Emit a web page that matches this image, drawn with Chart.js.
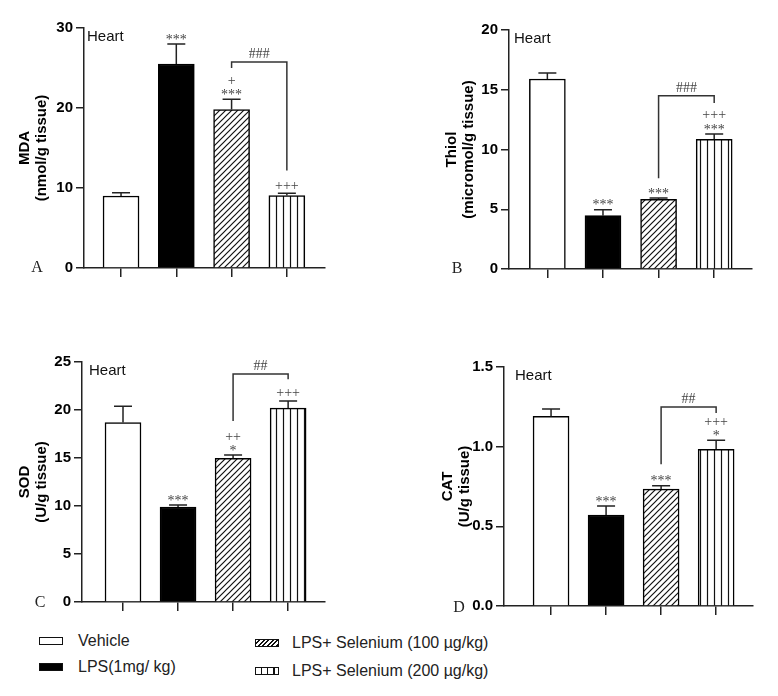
<!DOCTYPE html>
<html>
<head>
<meta charset="utf-8">
<script src="https://cdn.jsdelivr.net/npm/chart.js@4"></script>
<style>
  body { margin: 0; background: #fff; font-family: "Liberation Sans", Arial, sans-serif; }
  #wrap { position: relative; width: 778px; height: 696px; overflow: hidden; }
  canvas { position: absolute; }
  .sw { position: absolute; width: 24px; height: 8px; box-sizing: border-box; border: 1.5px solid #111; background: #fff; }
  .sw.black { background: #000; }
  .sw.diag { background: repeating-linear-gradient(135deg, #fff 0 2px, #111 2px 3.2px); }
  .sw.vert { background: repeating-linear-gradient(90deg, #fff 0 5px, #111 5px 6.2px); }
  .lab { position: absolute; font-size: 16px; line-height: 18px; color: #222; white-space: nowrap; }
</style>
</head>
<body>
<div id="wrap">
  <canvas id="mdaChart" width="389" height="300" style="left:0;top:0"></canvas>
  <canvas id="thiolChart" width="389" height="300" style="left:389px;top:0"></canvas>
  <canvas id="sodChart" width="389" height="320" style="left:0;top:300px"></canvas>
  <canvas id="catChart" width="389" height="320" style="left:389px;top:300px"></canvas>

  <div class="sw" style="left:39px;top:637px"></div>
  <div class="lab" style="left:78px;top:632px">Vehicle</div>
  <div class="sw black" style="left:39px;top:663px"></div>
  <div class="lab" style="left:78px;top:658px">LPS(1mg/ kg)</div>
  <div class="sw diag" style="left:255px;top:639px"></div>
  <div class="lab" style="left:292px;top:634px">LPS+ Selenium (100 µg/kg)</div>
  <div class="sw vert" style="left:255px;top:667px"></div>
  <div class="lab" style="left:292px;top:662px">LPS+ Selenium (200 µg/kg)</div>
</div>
<script>
// groups, in bar order
const groups = ["Vehicle", "LPS(1mg/ kg)", "LPS+ Selenium (100 µg/kg)", "LPS+ Selenium (200 µg/kg)"];

// A - MDA
const mdaMean = [9.0, 25.5, 19.8, 9.05];
const mdaErr = [9.4, 28.0, 21.1, 9.35];
const mdaMarks = [[], ["***"], ["+", "***"], ["+++"]];
const mdaBracket = [25.0, 25.75, 12.2];   // left foot, top, right foot
const mdaTicks = [0, 10, 20, 30];

// B - Thiol
const thiolMean = [15.9, 4.46, 5.83, 10.85];
const thiolErr = [16.4, 4.95, 5.94, 11.3];
const thiolMarks = [[], ["***"], ["***"], ["+++", "***"]];
const thiolBracket = [7.6, 14.5, 13.9];
const thiolTicks = [0, 5, 10, 15, 20];

// C - SOD
const sodMean = [18.7, 9.9, 14.97, 20.2];
const sodErr = [20.4, 10.1, 15.3, 20.95];
const sodMarks = [[], ["***"], ["++", "*"], ["+++"]];
const sodBracket = [18.85, 23.75, 23.2];
const sodTicks = [0, 5, 10, 15, 20, 25];

// D - CAT
const catMean = [1.19, 0.571, 0.734, 0.984];
const catErr = [1.236, 0.628, 0.755, 1.04];
const catMarks = [[], ["***"], ["***"], ["+++", "*"]];
const catBracket = [0.89, 1.249, 1.211];
const catTicks = [0, 0.5, 1.0, 1.5];
const catTickLabels = ["0.0", "0.5", "1.0", "1.5"];

// bar fills
function makePattern(kind) {
    const c = document.createElement("canvas");
    c.width = c.height = kind === "diag" ? 6 : 7;
    const g = c.getContext("2d");
    g.fillStyle = "#fff";
    g.fillRect(0, 0, c.width, c.height);
    g.strokeStyle = "#111";
    g.lineWidth = 1.2;
    g.beginPath();
    if (kind === "diag") {
        g.moveTo(0, 6); g.lineTo(6, 0);
        g.moveTo(-1, 1); g.lineTo(1, -1);
        g.moveTo(5, 7); g.lineTo(7, 5);
    } else {
        g.moveTo(3.5, 0); g.lineTo(3.5, 7);
    }
    g.stroke();
    return g.createPattern(c, "repeat");
}
const fills = ["#fff", "#000", makePattern("diag"), makePattern("vert")];

const panels = [
    { id: "mdaChart", letter: "A", title: ["MDA", "(nmol/g tissue)"], mean: mdaMean, err: mdaErr, marks: mdaMarks,
      bracket: mdaBracket, bracketLabel: "###", ticks: mdaTicks, tickLabels: mdaTicks.map(String),
      area: { left: 84, right: 325, top: 28, bottom: 268 }, xRange: [-0.67, 3.69], titlePad: 16.4,
      letterPos: [37, 268], heartDx: 3 },
    { id: "thiolChart", letter: "B", title: ["Thiol", "(micromol/g tissue)"], mean: thiolMean, err: thiolErr, marks: thiolMarks,
      bracket: thiolBracket, bracketLabel: "###", ticks: thiolTicks, tickLabels: thiolTicks.map(String),
      area: { left: 120, right: 363, top: 30, bottom: 269 }, xRange: [-0.69, 3.68], titlePad: 54.4,
      letterPos: [68, 269], heartDx: 5 },
    { id: "sodChart", letter: "C", title: ["SOD", "(U/g tissue)"], mean: sodMean, err: sodErr, marks: sodMarks,
      bracket: sodBracket, bracketLabel: "##", ticks: sodTicks, tickLabels: sodTicks.map(String),
      area: { left: 82, right: 325, top: 62, bottom: 302 }, xRange: [-0.745, 3.67], titlePad: 16.4,
      letterPos: [40, 303], heartDx: 7 },
    { id: "catChart", letter: "D", title: ["CAT", "(U/g tissue)"], mean: catMean, err: catErr, marks: catMarks,
      bracket: catBracket, bracketLabel: "##", ticks: catTicks, tickLabels: catTickLabels,
      area: { left: 115, right: 364, top: 67, bottom: 306 }, xRange: [-0.855, 3.67], titlePad: 50.4,
      letterPos: [70, 308], heartDx: 11 }
];

// vertical shift so the glyph (not the em box) sits on the wanted centre
const glyphShift = t => t[0] === "*" ? 6.6 : t[0] === "#" ? 4.8 : 3.5;

// error bars, significance marks, bracket, "Heart" and panel letter
const makeExtras = p => ({
    id: "extras",
    afterDatasetsDraw(chart) {
        const { ctx, chartArea, scales: { x, y } } = chart;
        ctx.save();
        ctx.strokeStyle = "#222";
        ctx.lineWidth = 1.5;
        ctx.textAlign = "center";
        ctx.textBaseline = "alphabetic";
        ctx.font = '14px "Liberation Serif"';
        p.mean.forEach((m, i) => {
            const px = x.getPixelForValue(i);
            const yb = y.getPixelForValue(m);
            const yt = y.getPixelForValue(p.err[i]);
            ctx.beginPath();
            ctx.moveTo(px, yb); ctx.lineTo(px, yt);
            ctx.moveTo(px - 9, yt); ctx.lineTo(px + 9, yt);
            ctx.stroke();
            const lines = p.marks[i];
            ctx.fillStyle = "#444";
            lines.forEach((t, k) => {
                const cy = yt - 7 - (lines.length - 1 - k) * 11;
                ctx.fillText(t, px, cy + glyphShift(t));
            });
        });

        // bracket between the two selenium groups
        const x2 = x.getPixelForValue(2), x3 = x.getPixelForValue(3);
        const yTop = y.getPixelForValue(p.bracket[1]);
        ctx.strokeStyle = "#333";
        ctx.beginPath();
        ctx.moveTo(x2, y.getPixelForValue(p.bracket[0]));
        ctx.lineTo(x2, yTop);
        ctx.lineTo(x3, yTop);
        ctx.lineTo(x3, y.getPixelForValue(p.bracket[2]));
        ctx.stroke();
        ctx.fillStyle = "#444";
        ctx.fillText(p.bracketLabel, (x2 + x3) / 2, yTop - 8.5 + glyphShift("#"));

        ctx.fillStyle = "#111";
        ctx.textAlign = "left";
        ctx.textBaseline = "middle";
        ctx.font = '15px "Liberation Sans"';
        ctx.fillText("Heart", chartArea.left + p.heartDx, chartArea.top + 9);

        ctx.textAlign = "center";
        ctx.font = '16px "Liberation Serif"';
        ctx.fillStyle = "#222";
        ctx.fillText(p.letter, p.letterPos[0], p.letterPos[1]);
        ctx.restore();
    }
});

panels.forEach(p => {
    const canvas = document.getElementById(p.id);
    const W = canvas.width, H = canvas.height;
    new Chart(canvas.getContext("2d"), {
        type: "bar",
        data: {
            labels: groups,
            datasets: [{
                data: p.mean.map((v, i) => ({ x: i, y: v })),
                backgroundColor: fills,
                borderColor: "#000",
                borderWidth: 1.5,
                barThickness: 36
            }]
        },
        options: {
            responsive: false,
            animation: false,
            layout: { padding: { left: 0, top: p.area.top, right: W - p.area.right, bottom: 0 } },
            plugins: { legend: { display: false }, tooltip: { enabled: false } },
            scales: {
                x: {
                    type: "linear",
                    offset: false,
                    min: p.xRange[0],
                    max: p.xRange[1],
                    afterBuildTicks: s => { s.ticks = p.mean.map((_, i) => ({ value: i })); },
                    afterFit: s => { s.height = H - p.area.bottom; },
                    ticks: { display: false },
                    grid: { offset: false, drawOnChartArea: false, tickLength: 9, color: "#222", lineWidth: 1.5 },
                    border: { color: "#222", width: 1.5 }
                },
                y: {
                    min: 0,
                    max: p.ticks[p.ticks.length - 1],
                    afterBuildTicks: s => { s.ticks = p.ticks.map(v => ({ value: v })); },
                    afterFit: s => { s.width = p.area.left; },
                    ticks: {
                        callback: (v, i) => p.tickLabels[i],
                        font: { family: "Liberation Sans", size: 15, weight: "bold" },
                        color: "#000",
                        padding: 3
                    },
                    grid: { drawOnChartArea: false, tickLength: 8, color: "#222", lineWidth: 1.5 },
                    border: { color: "#222", width: 1.5 },
                    title: {
                        display: true,
                        text: p.title,
                        color: "#000",
                        font: { family: "Liberation Sans", size: 15, weight: "bold", lineHeight: 1.15 },
                        padding: { top: p.titlePad, bottom: 0 }
                    }
                }
            }
        },
        plugins: [makeExtras(p)]
    });
});
</script>
</body>
</html>
